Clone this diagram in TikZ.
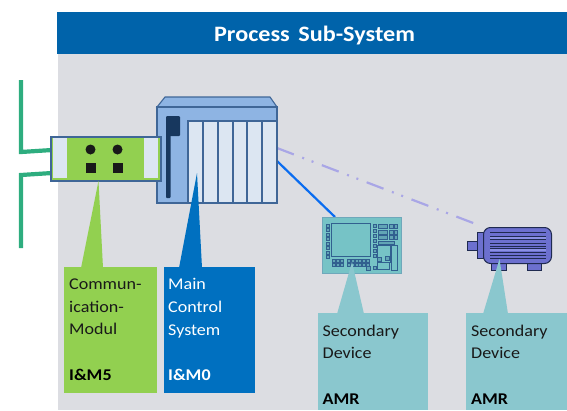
\documentclass[tikz,border=0pt]{standalone}
\usepackage{fontspec}
\setmainfont[FakeStretch=1.1]{Carlito}
\definecolor{bgGray}{HTML}{DCDDE2}
\definecolor{headBlue}{HTML}{0063AA}
\definecolor{mainBlue}{HTML}{0070C0}
\definecolor{lineGreen}{HTML}{2EAD7F}
\definecolor{modGreen}{HTML}{92D050}
\definecolor{rackBlue}{HTML}{8EB4E3}
\definecolor{slotPale}{HTML}{DCE6F2}
\definecolor{edgeBlue}{HTML}{3F6697}
\definecolor{darkNavy}{HTML}{17375E}
\definecolor{teal}{HTML}{8AC7CE}
\definecolor{panelTeal}{HTML}{76C3C6}
\definecolor{panelEdge}{HTML}{31608F}
\definecolor{motorBlue}{HTML}{6C70CF}
\definecolor{motorEdge}{HTML}{1F2A50}
\definecolor{motorLight}{HTML}{8A90E4}
\definecolor{linkLilac}{HTML}{A9A6E6}
\definecolor{linkBlue}{HTML}{0A6CF0}
\tikzset{
  labelbox/.style={inner sep=0pt,outer sep=0pt,anchor=north west},
  labeltext/.style={inner sep=0pt,anchor=north west,align=left,font=\fontsize{16.4}{22.7}\selectfont,text depth=0pt},
  devedge/.style={draw=edgeBlue,line width=1.1pt},
  keyrow/.style={draw=panelEdge,line width=.8pt,fill=panelTeal!70!panelEdge},
  busline/.style={draw=lineGreen,line width=4.2pt,line join=miter},
}
\begin{document}
\begin{tikzpicture}[x=1pt,y=-1pt]
\useasboundingbox (0,0) rectangle (567,410);
% background and header
\fill[bgGray] (58,54) rectangle (567,410);
\node[fill=headBlue,minimum width=510pt,minimum height=42pt,labelbox] (head) at (57,12) {};
\node[text=white,font=\bfseries\fontsize{22}{24}\selectfont] (title) at (314.5,35.5) {Process\hspace{3pt} Sub-System};
% field bus
\coordinate (busTop) at (21,80);
\coordinate (busA) at (21,152);
\coordinate (busBot) at (21,248);
\coordinate (busB) at (21,175);
\coordinate (modA) at (52,150);
\coordinate (modB) at (52,173);
\draw[busline] (busTop) -- (busA) -- (modA);
\draw[busline] (busBot) -- (busB) -- (modB);
% connectors
\coordinate (rackOutA) at (277,148);
\coordinate (rackOutB) at (277,161);
\coordinate (panelIn) at (335,217);
\coordinate (motorIn) at (481,226);
\draw[linkLilac,line width=2.2pt,dash pattern=on 18pt off 9pt on 2pt off 8pt on 2pt off 9pt] (rackOutA) -- (motorIn);
\draw[linkBlue,line width=2.2pt] (rackOutB) -- (panelIn);
% rack
\draw[devedge,fill=rackBlue] (157,107) -- (165,97) -- (270,97) -- (277,107) -- cycle;
\node[labelbox,devedge,fill=rackBlue,minimum width=120pt,minimum height=96pt] (rack) at (157,107) {};
\foreach \a/\b in {188/203,203/218,218/233,233/247,247/262,262/277}
  \draw[devedge,fill=slotPale] (\a,121) rectangle (\b,203);
\fill[darkNavy,rounded corners=1pt] (166,116) rectangle (180,136);
\fill[darkNavy,rounded corners=1pt] (166,134) rectangle (170.5,198);
% communication module
\node[labelbox,devedge,fill=modGreen,minimum width=110pt,minimum height=44pt] (module) at (51,137) {};
\fill[slotPale] (53,138) rectangle (66.5,178);
\fill[slotPale] (144,138) rectangle (158,178);
\foreach \x in {90.5,117.5}{
  \fill[black!90] (\x,149.5) circle (5pt);
  \fill[black!90] (\x-5,162.5) rectangle (\x+5,172.5);
}
% operator panel
\node[labelbox,draw=teal!70!panelEdge,fill=panelTeal,line width=.8pt,minimum width=79pt,minimum height=56pt] (panel) at (322,217) {};
\draw[panelEdge,line width=1.4pt,fill=panelTeal] (331.5,223.5) rectangle (370.5,256.5);
\foreach \y in {224,228.5,233,237.5,242,246.5,251,255}
  \draw[keyrow] (326,\y) rectangle (329.5,\y+3);
\foreach \x in {332,336,340,347,351,355,358,362,366}{
  \draw[keyrow] (\x,259) rectangle (\x+3,262.5);
  \draw[keyrow] (\x,263.5) rectangle (\x+3,266.5);
}
\foreach \y in {224,229,234,239,244,249,254}
  \draw[keyrow] (373,\y) rectangle (376.5,\y+3);
\foreach \y in {224,230,235}{
  \draw[keyrow] (378,\y) rectangle (387,\y+4);
  \draw[keyrow] (389,\y) rectangle (393,\y+4);
  \draw[keyrow] (394,\y) rectangle (397,\y+4);
}
\draw[keyrow] (378,241) rectangle (394,244);
\draw[panelEdge,line width=.8pt] (377,245) rectangle (390,262);
\draw[panelEdge,line width=.8pt] (391,245) rectangle (397,270);
\draw[keyrow] (377,257) rectangle (381,261);
\draw[keyrow] (385,256) rectangle (389,260);
\draw[panelEdge,line width=.8pt,fill=panelTeal] (377,262) rectangle (389,269);
\draw[keyrow] (373,266) rectangle (376,269);
\draw[keyrow] (366,266) rectangle (370,270);
% motor
\draw[motorEdge,line width=1pt,fill=motorBlue] (491,262) rectangle (506.5,270);
\draw[motorEdge,line width=1pt,fill=motorBlue] (527.5,262) rectangle (541.5,270);
\draw[motorEdge,line width=1pt,fill=motorBlue] (467.5,241.5) rectangle (478,250);
\draw[motorEdge,line width=1pt,fill=motorBlue] (477,232) rectangle (485,258);
\node[labelbox,draw=motorEdge,fill=motorBlue,line width=1pt,rounded corners=7pt,minimum width=68pt,minimum height=36pt] (motor) at (483.5,227.5) {};
\foreach \y in {232,236,239,243,246,248,252,255,258}
  \draw[motorEdge,line width=.9pt] (490,\y) -- (546,\y);
\foreach \y in {238,250}
  \draw[motorLight,line width=1.2pt] (490,\y) -- (546,\y);
% callouts
\fill[modGreen] (98.5,181) -- (81,268) -- (103,268) -- cycle;
\fill[mainBlue] (197,173) -- (179,268) -- (202,268) -- cycle;
\fill[teal] (352,262) -- (337,314) -- (364,314) -- cycle;
\fill[teal] (499.5,259) -- (483,314) -- (508,314) -- cycle;
\node[labelbox,fill=modGreen,minimum width=93pt,minimum height=126pt] (boxA) at (64,267) {};
\node[labelbox,fill=mainBlue,minimum width=90.5pt,minimum height=126pt] (boxB) at (164,267) {};
\node[labelbox,fill=teal,minimum width=110pt,minimum height=97pt] (boxC) at (318,313) {};
\node[labelbox,fill=teal,minimum width=101pt,minimum height=97pt] (boxD) at (466,313) {};
\node[labeltext,text=black!90] (txtA) at (69,278.5) {Commun-\\ication-\\Modul\\[22.7pt]\textcolor{black}{\textbf{I\&M5}}};
\node[labeltext,text=white] (txtB) at (168,278.5) {Main\\Control\\System\\[22.7pt]\textbf{I\&M0}};
\node[labeltext,text=black!90] (txtC) at (322.5,324.5) {Secondary\\Device\\[22.7pt]\textcolor{black}{\textbf{AMR}}};
\node[labeltext,text=black!90] (txtD) at (471,324.5) {Secondary\\Device\\[22.7pt]\textcolor{black}{\textbf{AMR}}};
\end{tikzpicture}
\end{document}
